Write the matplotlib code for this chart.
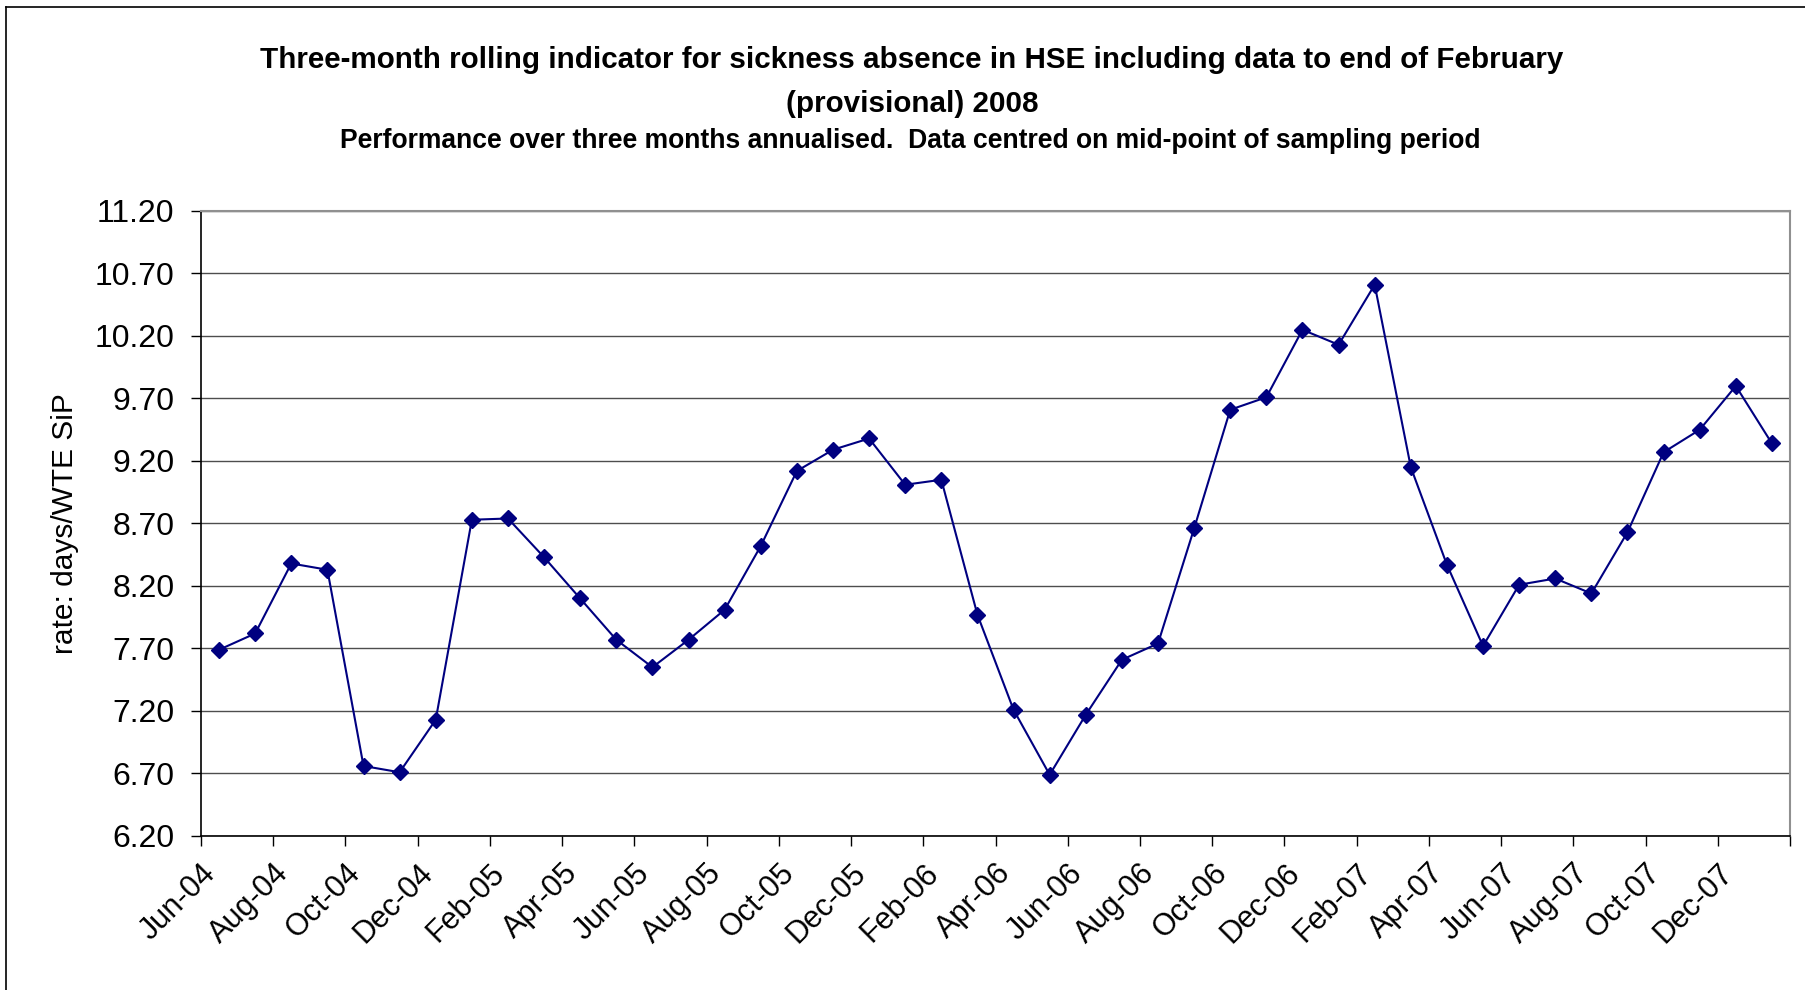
import numpy as np
import matplotlib
matplotlib.use("Agg")
import matplotlib.pyplot as plt
from matplotlib.lines import Line2D

plt.rcParams["font.family"] = ["Liberation Sans", "DejaVu Sans"]

# Data: three-month rolling sickness absence rate, Jun-04 .. Jan-08 (monthly)
rates = [7.69, 7.82, 8.38, 8.33, 6.76, 6.71, 7.13, 8.73, 8.74, 8.43,
         8.10, 7.77, 7.55, 7.77, 8.01, 8.52, 9.12, 9.29, 9.38, 9.01,
         9.05, 7.97, 7.21, 6.69, 7.17, 7.61, 7.74, 8.66, 9.61, 9.71,
         10.25, 10.13, 10.61, 9.15, 8.37, 7.72, 8.21, 8.26, 8.14, 8.63,
         9.27, 9.45, 9.80, 9.34]

tick_labels = ["Jun-04", "Aug-04", "Oct-04", "Dec-04", "Feb-05", "Apr-05",
               "Jun-05", "Aug-05", "Oct-05", "Dec-05", "Feb-06", "Apr-06",
               "Jun-06", "Aug-06", "Oct-06", "Dec-06", "Feb-07", "Apr-07",
               "Jun-07", "Aug-07", "Oct-07", "Dec-07", ""]

y_ticks = [6.20, 6.70, 7.20, 7.70, 8.20, 8.70, 9.20, 9.70, 10.20, 10.70, 11.20]

n = len(rates)
x = np.arange(n) + 0.5  # points centred in each month

fig = plt.figure(figsize=(18.05, 9.9), dpi=100)
ax = fig.add_axes([201 / 1805, 1 - 836 / 990, (1790 - 201) / 1805, (836 - 211) / 990])

ax.plot(x, rates, color="#000080", linewidth=1.5, marker="D", markersize=8,
        markerfacecolor="#000080", markeredgecolor="#000080", zorder=3)

ax.set_xlim(0, n)
ax.set_ylim(6.20, 11.20)
ax.set_yticks(y_ticks)
ax.set_yticklabels([f"{v:.2f}" for v in y_ticks], fontsize=23)
ax.set_xticks(np.arange(0, n + 1, 2))
ax.set_xticklabels(tick_labels, fontsize=22, rotation=45, ha="right",
                   rotation_mode="anchor")
ax.tick_params(axis="y", direction="out", length=7, width=1, pad=12)
ax.tick_params(axis="x", direction="out", length=7, width=1, pad=9)

ax.grid(axis="y", color="#4d4d4d", linewidth=1.0)
ax.set_axisbelow(True)
for s in ["left", "bottom"]:
    ax.spines[s].set_color("black")
    ax.spines[s].set_linewidth(1.2)
for s in ["top", "right"]:
    ax.spines[s].set_color("#909090")
    ax.spines[s].set_linewidth(1.5)

fig.text(65 / 1805, 1 - 524 / 990, "rate: days/WTE SiP", rotation=90,
         ha="center", va="center", fontsize=21.5)

fig.text(912 / 1805, 1 - 60 / 990,
         "Three-month rolling indicator for sickness absence in HSE including data to end of February",
         ha="center", va="center", fontsize=21.3, fontweight="bold")
fig.text(912 / 1805, 1 - 104 / 990, "(provisional) 2008",
         ha="center", va="center", fontsize=21.3, fontweight="bold")
fig.text(910 / 1805, 1 - 141 / 990,
         "Performance over three months annualised.  Data centred on mid-point of sampling period",
         ha="center", va="center", fontsize=19.1, fontweight="bold")

# outer chart frame (only top and left edges visible)
fig.add_artist(Line2D([6 / 1805, 6 / 1805], [0, 1 - 7 / 990], transform=fig.transFigure,
                      color="black", linewidth=1.2))
fig.add_artist(Line2D([6 / 1805, 1], [1 - 7 / 990, 1 - 7 / 990], transform=fig.transFigure,
                      color="black", linewidth=1.2))

fig.savefig("out.png", dpi=100)
